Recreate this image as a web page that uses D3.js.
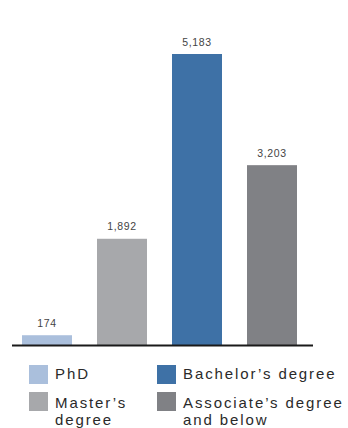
<!DOCTYPE html>
<html>
<head>
<meta charset="utf-8">
<script src="https://cdn.jsdelivr.net/npm/d3@7"></script>
<style>
  html, body { margin: 0; padding: 0; background: #fff; }
  svg { display: block; }
</style>
</head>
<body>
<svg id="chart" width="348" height="428"></svg>
<script>
// Degree levels and their counts
const categories = ["PhD", "Master's degree", "Bachelor's degree", "Associate's degree and below"];
const values = [174, 1892, 5183, 3203];
const colors = ["#aabfdc", "#a7a8ab", "#3e71a6", "#808185"];
// Legend labels split into lines, laid out in two columns
const legendLines = [["PhD"], ["Master\u2019s", "degree"], ["Bachelor\u2019s degree"], ["Associate\u2019s degree", "and below"]];

const svg = d3.select("#chart");
const baseY = 345;

const x = d3.scaleBand()
  .domain(categories)
  .range([22, 297])
  .paddingInner(1 / 3)
  .paddingOuter(0);

const y = d3.scaleLinear()
  .domain([0, 5183])
  .range([baseY, 54]);

svg.selectAll("rect.bar")
  .data(values)
  .enter().append("rect")
  .attr("class", "bar")
  .attr("x", (d, i) => x(categories[i]))
  .attr("width", x.bandwidth())
  .attr("y", d => y(d))
  .attr("height", d => baseY - y(d))
  .attr("fill", (d, i) => colors[i]);

svg.selectAll("text.val")
  .data(values)
  .enter().append("text")
  .attr("class", "val")
  .attr("x", (d, i) => x(categories[i]) + x.bandwidth() / 2)
  .attr("y", d => y(d) - 8.5)
  .attr("text-anchor", "middle")
  .attr("font-family", "Liberation Sans, Arial, sans-serif")
  .attr("font-size", 10.5)
  .attr("letter-spacing", 0.6)
  .attr("fill", "#444")
  .text(d => d3.format(",")(d));

// Baseline axis
svg.append("line")
  .attr("x1", 12).attr("x2", 313)
  .attr("y1", baseY + 0.5).attr("y2", baseY + 0.5)
  .attr("stroke", "#1a1a1a")
  .attr("stroke-width", 2);

// Legend
const legendPos = [
  { sx: 29, sy: 365, tx: 55, ty: 379 },
  { sx: 29, sy: 392, tx: 55, ty: 408 },
  { sx: 157, sy: 365, tx: 183, ty: 379 },
  { sx: 157, sy: 392, tx: 183, ty: 408 }
];

const leg = svg.selectAll("g.leg")
  .data(categories)
  .enter().append("g")
  .attr("class", "leg");

leg.append("rect")
  .attr("x", (d, i) => legendPos[i].sx)
  .attr("y", (d, i) => legendPos[i].sy)
  .attr("width", 19)
  .attr("height", 19)
  .attr("fill", (d, i) => colors[i]);

leg.each(function (d, i) {
  const t = d3.select(this).append("text")
    .attr("x", legendPos[i].tx)
    .attr("y", legendPos[i].ty)
    .attr("font-family", "Liberation Sans, Arial, sans-serif")
    .attr("font-size", 15)
    .attr("letter-spacing", 1.9)
    .attr("fill", "#2a2a2a");
  legendLines[i].forEach((line, j) => {
    t.append("tspan")
      .attr("x", legendPos[i].tx)
      .attr("dy", j === 0 ? 0 : 17)
      .text(line);
  });
});
</script>
</body>
</html>
